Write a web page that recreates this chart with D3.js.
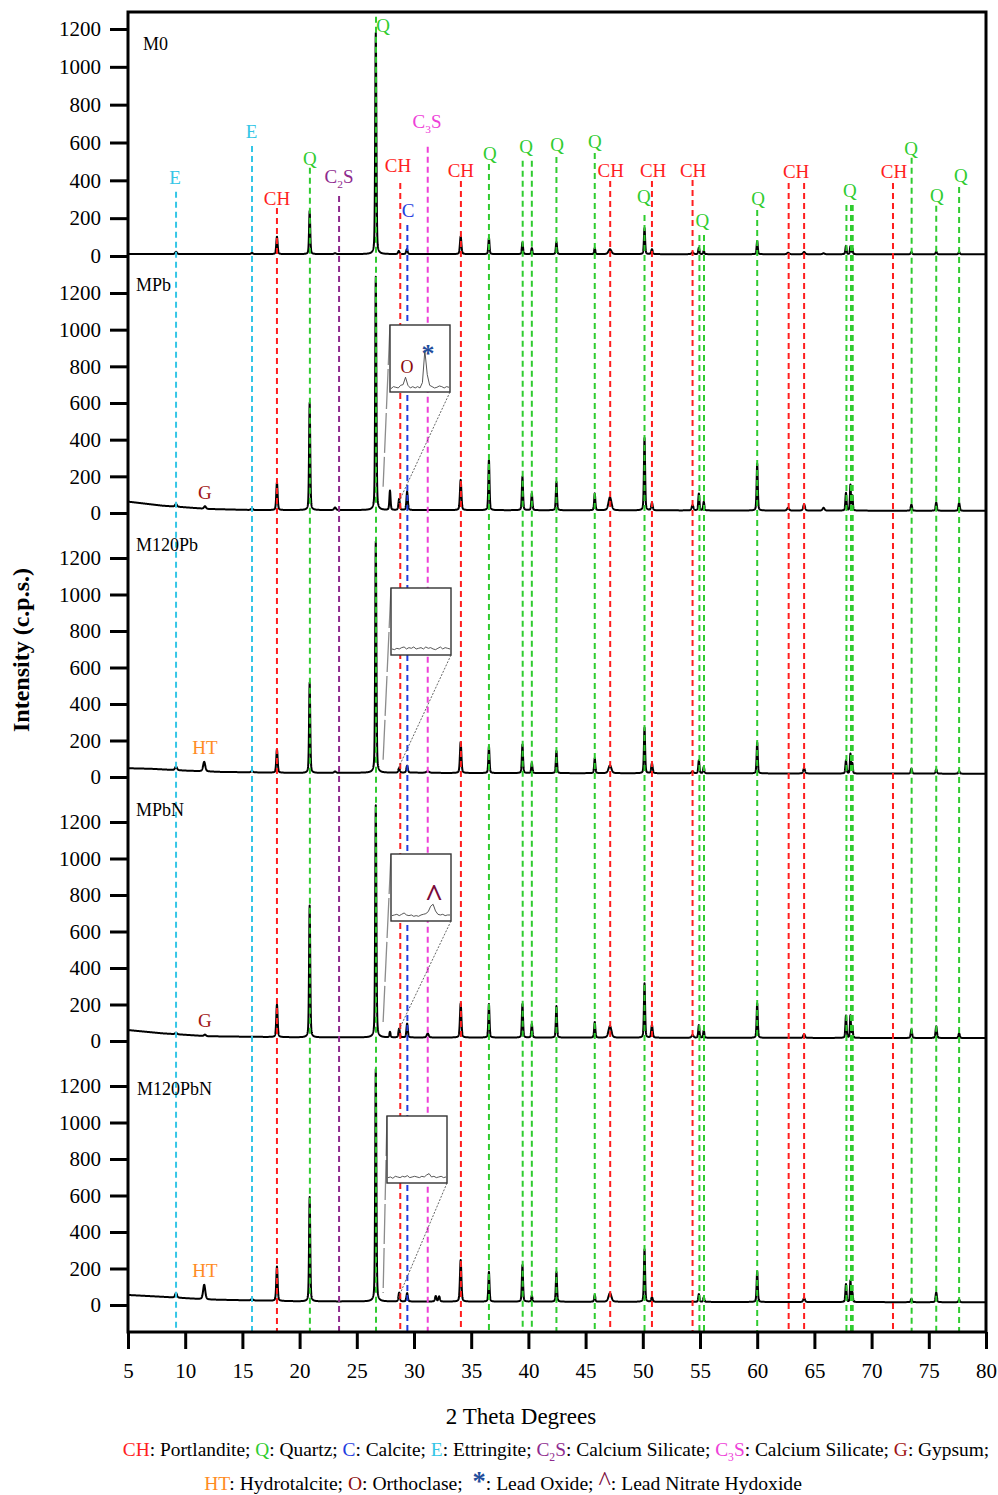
<!DOCTYPE html>
<html>
<head>
<meta charset="utf-8">
<script src="https://cdn.jsdelivr.net/npm/d3@7"></script>
<style>
  body { margin: 0; background: #fff; }
  svg text, svg tspan { font-family: "Liberation Serif", "Times New Roman", serif; }
</style>
</head>
<body>
<svg id="chart" width="998" height="1495"></svg>
<script>
// ---------------- data ----------------
const samples = ["M0", "MPb", "M120Pb", "MPbN", "M120PbN"];
const yTickValues = [0, 200, 400, 600, 800, 1000, 1200];
const xTickValues = [5, 10, 15, 20, 25, 30, 35, 40, 45, 50, 55, 60, 65, 70, 75, 80];

// background level of each pattern: [2θ, c.p.s.]
const backgroundM0      = [[5, 10], [40, 10], [80, 9]];
const backgroundMPb     = [[5, 62], [8, 40], [12, 22], [16, 16], [30, 16], [80, 12]];
const backgroundM120Pb  = [[5, 48], [7, 45], [10, 35], [13, 28], [20, 22], [30, 24], [33, 22], [80, 18]];
const backgroundMPbN    = [[5, 60], [8, 42], [12, 26], [20, 20], [80, 16]];
const backgroundM120PbN = [[5, 55], [8, 45], [12, 30], [20, 20], [80, 15]];

// reflections: [2θ, height above background (c.p.s.), FWHM (°)]
const peaksM0 = [[9.2, 12, 0.2], [15.84, 6, 0.2], [18.02, 92, 0.14], [20.88, 228, 0.12], [23.1, 5, 0.2],
  [26.66, 1170, 0.12], [28.67, 16, 0.15], [29.38, 26, 0.15], [34.08, 94, 0.15], [36.55, 86, 0.12],
  [39.48, 62, 0.12], [40.3, 32, 0.12], [42.45, 64, 0.12], [45.8, 32, 0.12], [47.13, 26, 0.3],
  [50.15, 138, 0.12], [50.8, 26, 0.15], [54.35, 10, 0.2], [54.9, 34, 0.12], [55.33, 18, 0.12],
  [60.0, 70, 0.12], [62.7, 8, 0.2], [64.1, 12, 0.2], [65.8, 5, 0.2], [67.76, 44, 0.12],
  [68.15, 42, 0.1], [68.32, 30, 0.1], [73.48, 12, 0.14], [75.65, 14, 0.14], [77.65, 12, 0.14]];
const peaksMPb = [[9.2, 15, 0.2], [11.73, 14, 0.2], [15.84, 8, 0.2], [18.02, 150, 0.14], [20.88, 585, 0.12],
  [23.1, 14, 0.2], [26.66, 1272, 0.12], [27.9, 105, 0.12], [28.7, 60, 0.14], [29.4, 100, 0.14],
  [34.08, 165, 0.15], [36.55, 275, 0.12], [39.48, 183, 0.12], [40.3, 92, 0.12], [42.45, 155, 0.12],
  [45.8, 92, 0.12], [47.13, 72, 0.3], [50.15, 395, 0.12], [50.8, 41, 0.15], [54.35, 29, 0.18],
  [54.9, 92, 0.12], [55.33, 47, 0.12], [60.0, 256, 0.12], [62.7, 15, 0.2], [64.1, 34, 0.18],
  [65.8, 15, 0.2], [67.76, 96, 0.12], [68.15, 140, 0.1], [68.32, 80, 0.1], [73.48, 34, 0.14],
  [75.65, 45, 0.14], [77.65, 43, 0.14]];
const peaksM120Pb = [[9.2, 20, 0.2], [11.66, 52, 0.22], [15.84, 7, 0.2], [18.02, 128, 0.14], [20.88, 495, 0.12],
  [23.1, 8, 0.2], [26.66, 1268, 0.12], [28.7, 25, 0.15], [29.4, 38, 0.15], [31.2, 8, 0.3],
  [34.08, 170, 0.15], [36.55, 146, 0.12], [39.48, 157, 0.12], [40.3, 56, 0.12], [42.45, 122, 0.12],
  [45.8, 82, 0.12], [47.13, 43, 0.3], [50.15, 250, 0.12], [50.8, 54, 0.15], [54.35, 10, 0.2],
  [54.9, 71, 0.12], [55.33, 35, 0.12], [60.0, 170, 0.12], [64.1, 28, 0.18], [67.76, 72, 0.12],
  [68.15, 108, 0.1], [68.32, 55, 0.1], [73.48, 28, 0.14], [75.65, 24, 0.14], [77.65, 14, 0.14]];
const peaksMPbN = [[9.2, 8, 0.2], [11.73, 8, 0.2], [18.02, 178, 0.14], [20.88, 722, 0.12], [26.66, 1272, 0.12],
  [27.9, 30, 0.12], [28.7, 48, 0.14], [29.4, 76, 0.14], [31.2, 22, 0.2], [34.08, 187, 0.15],
  [36.55, 184, 0.12], [39.48, 184, 0.12], [40.3, 75, 0.12], [42.45, 173, 0.12], [45.8, 86, 0.12],
  [47.13, 64, 0.3], [50.15, 298, 0.12], [50.8, 69, 0.15], [54.35, 15, 0.2], [54.9, 69, 0.12],
  [55.33, 40, 0.12], [60.0, 189, 0.12], [64.1, 20, 0.18], [67.76, 122, 0.12], [68.15, 122, 0.1],
  [68.32, 62, 0.1], [73.48, 47, 0.14], [75.65, 64, 0.14], [77.65, 26, 0.14]];
const peaksM120PbN = [[9.2, 25, 0.2], [11.66, 80, 0.22], [15.84, 8, 0.2], [18.02, 188, 0.14], [20.88, 572, 0.12],
  [26.66, 1274, 0.12], [28.7, 48, 0.14], [29.4, 46, 0.14], [31.9, 30, 0.15], [32.2, 28, 0.15],
  [34.08, 228, 0.15], [36.55, 163, 0.12], [39.48, 201, 0.12], [40.3, 33, 0.12], [42.45, 163, 0.12],
  [45.8, 38, 0.12], [47.13, 48, 0.3], [50.15, 288, 0.12], [50.8, 25, 0.15], [54.9, 43, 0.12],
  [55.33, 25, 0.12], [60.0, 168, 0.12], [64.1, 21, 0.18], [67.76, 98, 0.12], [68.15, 118, 0.1],
  [68.32, 52, 0.1], [73.48, 18, 0.14], [75.65, 54, 0.14], [77.65, 14, 0.14]];

// phase reference lines: position, phase, upper end (c.p.s. on the M0 axis)
const markerTheta = [9.2, 15.84, 18.02, 20.9, 23.45, 26.68, 28.8, 29.42, 31.2, 34.1, 36.55, 39.5, 40.3, 42.45,
  45.8, 47.15, 50.15, 50.8, 54.35, 54.95, 55.35, 60.0, 62.75, 64.1, 67.8, 68.2, 68.35, 71.87, 73.5, 75.65, 77.65];
const markerPhase = ["E", "E", "CH", "Q", "C2S", "Q", "CH", "C", "C3S", "CH", "Q", "Q", "Q", "Q",
  "Q", "CH", "Q", "CH", "CH", "Q", "Q", "Q", "CH", "CH", "Q", "Q", "Q", "CH", "Q", "Q", "Q"];
const markerTop = [339, 582, 254, 466, 317, 1265, 386, 164, 577, 397, 487, 503, 503, 524,
  545, 397, 217, 397, 402, 111, 111, 243, 386, 386, 270, 270, 270, 386, 519, 265, 365];

// phase labels above the M0 pattern: text, centre position (2θ), baseline level (c.p.s.)
const phaseLabelText  = ["E", "E", "CH", "Q", "C2S", "Q", "CH", "C", "C3S", "CH", "Q", "Q", "Q", "Q", "CH",
  "Q", "CH", "CH", "Q", "Q", "CH", "Q", "CH", "Q", "Q", "Q"];
const phaseLabelTheta = [9.12, 15.8, 18.02, 20.9, 23.45, 27.3, 28.6, 29.48, 31.14, 34.1, 36.64, 39.8, 42.5, 45.8, 47.2,
  50.1, 50.9, 54.4, 55.2, 60.07, 63.4, 68.1, 71.96, 73.45, 75.7, 77.8];
const phaseLabelLevel = [381, 624, 270, 481, 386, 1185, 444, 206, 677, 418, 508, 545, 556, 571, 418,
  280, 418, 418, 153, 270, 413, 312, 413, 534, 286, 392];

// extra phase notes inside the lower patterns
const noteText  = ["", "G", "HT", "G", "HT"];
const noteTheta = 11.73;
const noteLevel = [0, 76, 126, 76, 153];

// enlarged 27.4–28.6° region shown in the insets (MPb, M120Pb, MPbN, M120PbN), c.p.s.
const insetRange = [27.4, 28.6];
const insetMPb      = [5, 8, 7, 6, 10, 11, 22, 10, 6, 8, 6, 8, 6, 14, 62, 26, 10, 8, 6, 7, 9, 8, 6, 8, 7];
const insetM120Pb   = [9, 8, 10, 9, 11, 12, 9, 11, 10, 12, 9, 10, 11, 9, 12, 10, 11, 9, 8, 10, 12, 9, 11, 10, 9];
const insetMPbN     = [8, 9, 10, 8, 10, 12, 9, 8, 9, 7, 8, 7, 9, 10, 11, 14, 22, 25, 15, 10, 9, 10, 8, 9, 9];
const insetM120PbN  = [8, 9, 7, 10, 9, 8, 10, 9, 11, 8, 9, 10, 9, 8, 10, 9, 12, 14, 9, 10, 8, 9, 10, 8, 9];
// zoomed window on the main traces (c.p.s.): upper-left and lower-right anchors
const windowTheta  = [27.3, 28.55];
const windowTop    = [143, 93, 104, 66];
const windowBottom = [44, 38, 44, 27];

// ---------------- styling ----------------
const serif = "Liberation Serif, Times New Roman, serif";
const phaseColor = { E: "#35c6e6", CH: "#ff1f1f", Q: "#2fcc2f", C: "#1f3de0", C2S: "#8e2a8e",
  C3S: "#ee40d8", G: "#a01414", HT: "#ff8c1f", O: "#8b0a0a" };

const svg = d3.select("#chart");
const plot = { left: 128, right: 986, top: 12, bottom: 1332 };
const panelZero = [256, 513, 777, 1041, 1305];
const panelTop1200 = [29, 293, 558, 822, 1086];
const sampleLabelX = [143, 136, 136, 136, 137];
const sampleLabelY = [50, 291, 551, 816, 1095];
const insetBoxes = [{ x: 390, y: 325 }, { x: 391, y: 588 }, { x: 391, y: 854 }, { x: 387, y: 1116 }];
const insetW = 60, insetH = 67;

const x = d3.scaleLinear().domain([5, 80]).range([plot.left, plot.right]);
const ys = samples.map((s, i) => d3.scaleLinear().domain([0, 1200]).range([panelZero[i], panelTop1200[i]]));

const backgrounds = [backgroundM0, backgroundMPb, backgroundM120Pb, backgroundMPbN, backgroundM120PbN];
const peakTables = [peaksM0, peaksMPb, peaksM120Pb, peaksMPbN, peaksM120PbN];

// pseudo-Voigt reflection profile
function profile(t, c, h, w) {
  const u = (t - c) / w;
  const g = Math.exp(-4 * Math.LN2 * u * u);
  const l = 1 / (1 + 4 * u * u);
  return h * (0.35 * l + 0.65 * g);
}

const grid = d3.range(5, 80.0001, 0.01);
const line = d3.line();

// ---------------- diffraction patterns ----------------
const gTraces = svg.append("g");
samples.forEach((s, i) => {
  const bg = d3.scaleLinear().domain(backgrounds[i].map(d => d[0])).range(backgrounds[i].map(d => d[1]));
  const pts = grid.map(t => {
    let v = bg(t);
    for (const p of peakTables[i]) {
      if (Math.abs(t - p[0]) < 3) v += profile(t, p[0], p[1], p[2]);
    }
    return [x(t), ys[i](v)];
  });
  gTraces.append("path").attr("d", line(pts))
    .attr("fill", "none").attr("stroke", "#000").attr("stroke-width", 2)
    .attr("stroke-linejoin", "round");
});

// ---------------- phase reference lines ----------------
const gMarks = svg.append("g");
markerTheta.forEach((t, k) => {
  gMarks.append("line")
    .attr("x1", x(t)).attr("x2", x(t))
    .attr("y1", ys[0](markerTop[k])).attr("y2", plot.bottom - 1)
    .attr("stroke", phaseColor[markerPhase[k]]).attr("stroke-width", 2)
    .attr("stroke-dasharray", "6,4");
});

// text with chemical subscripts (C2S, C3S)
function phaseText(sel, code, size) {
  const m = code.match(/^C([23])S$/);
  if (m) {
    sel.append("tspan").text("C");
    sel.append("tspan").text(m[1]).attr("font-size", size * 0.6).attr("dy", size * 0.28);
    sel.append("tspan").text("S").attr("dy", -size * 0.28);
  } else {
    sel.text(code);
  }
}

const gLabels = svg.append("g");
phaseLabelText.forEach((c, k) => {
  const t = gLabels.append("text")
    .attr("x", x(phaseLabelTheta[k])).attr("y", ys[0](phaseLabelLevel[k]))
    .attr("text-anchor", "middle").attr("font-size", 19).attr("font-family", serif)
    .attr("fill", phaseColor[c]);
  phaseText(t, c, 19);
});

// sample names and notes
samples.forEach((s, i) => {
  svg.append("text").attr("x", sampleLabelX[i]).attr("y", sampleLabelY[i])
    .attr("font-size", 18).attr("font-family", serif).attr("fill", "#000").text(s);
  if (noteText[i]) {
    svg.append("text").attr("x", x(noteTheta)).attr("y", ys[i](noteLevel[i]))
      .attr("text-anchor", "middle").attr("font-size", 19).attr("font-family", serif)
      .attr("fill", phaseColor[noteText[i]]).text(noteText[i]);
  }
});

// ---------------- insets ----------------
const insetData = [insetMPb, insetM120Pb, insetMPbN, insetM120PbN];
insetData.forEach((vals, j) => {
  const i = j + 1;
  const b = insetBoxes[j];
  // connector lines from the box to the enlarged window
  svg.append("line")
    .attr("x1", b.x).attr("y1", b.y)
    .attr("x2", x(windowTheta[0])).attr("y2", ys[i](windowTop[j]))
    .attr("stroke", "#8c8c8c").attr("stroke-width", 1.3).attr("stroke-dasharray", "40,4");
  svg.append("line")
    .attr("x1", b.x + insetW).attr("y1", b.y + insetH)
    .attr("x2", x(windowTheta[1])).attr("y2", ys[i](windowBottom[j]))
    .attr("stroke", "#555").attr("stroke-width", 0.9).attr("stroke-dasharray", "2,1.5");

  const g = svg.append("g");
  g.append("rect").attr("x", b.x).attr("y", b.y).attr("width", insetW).attr("height", insetH)
    .attr("fill", "#fff").attr("stroke", "#333").attr("stroke-width", 1.4);
  const ix = d3.scaleLinear().domain(insetRange).range([b.x + 1, b.x + insetW - 1]);
  const iy = d3.scaleLinear().domain([0, 100]).range([b.y + insetH, b.y]);
  const step = (insetRange[1] - insetRange[0]) / (vals.length - 1);
  const ipts = vals.map((v, k) => [ix(insetRange[0] + k * step), iy(v)]);
  g.append("path").attr("d", line(ipts)).attr("fill", "none")
    .attr("stroke", "#444").attr("stroke-width", 0.9);
});
// inset annotations
svg.append("text").attr("x", 407).attr("y", 373).attr("text-anchor", "middle").attr("font-family", serif)
  .attr("font-size", 18).attr("fill", phaseColor.O).text("O");
svg.append("text").attr("x", 428).attr("y", 362).attr("text-anchor", "middle").attr("font-family", serif)
  .attr("font-size", 26).attr("font-weight", "bold").attr("fill", "#1f4e9c").text("*");
svg.append("text").attr("x", 434).attr("y", 906).attr("text-anchor", "middle").attr("font-family", serif)
  .attr("font-size", 32).attr("font-weight", "bold").attr("fill", "#7a0a3a").text("^");

// ---------------- axes and frame ----------------
samples.forEach((s, i) => {
  const ax = svg.append("g").attr("transform", `translate(${plot.left},0)`)
    .call(d3.axisLeft(ys[i]).tickValues(yTickValues).tickSize(18).tickPadding(9).tickFormat(d3.format("d")));
  ax.select(".domain").remove();
  ax.selectAll(".tick line").attr("stroke", "#000").attr("stroke-width", 3);
  ax.selectAll(".tick text").attr("font-size", 21).attr("font-family", serif).attr("fill", "#000");
});

const axb = svg.append("g").attr("transform", `translate(0,${plot.bottom})`)
  .call(d3.axisBottom(x).tickValues(xTickValues).tickSize(17).tickPadding(14));
axb.select(".domain").remove();
axb.selectAll(".tick line").attr("stroke", "#000").attr("stroke-width", 3);
axb.selectAll(".tick text").attr("font-size", 21).attr("font-family", serif).attr("fill", "#000");

svg.append("rect").attr("x", plot.left).attr("y", plot.top)
  .attr("width", plot.right - plot.left).attr("height", plot.bottom - plot.top)
  .attr("fill", "none").attr("stroke", "#000").attr("stroke-width", 3);

// axis titles
svg.append("text").attr("x", 521).attr("y", 1424).attr("text-anchor", "middle").attr("font-family", serif)
  .attr("font-size", 23).text("2 Theta Degrees");
svg.append("text").attr("transform", "translate(29,650) rotate(-90)").attr("text-anchor", "middle")
  .attr("font-family", serif).attr("font-size", 24).attr("font-weight", "bold").text("Intensity (c.p.s.)");

// ---------------- legend ----------------
const legendRow1 = [["CH", "CH"], [null, ": Portlandite; "], ["Q", "Q"], [null, ": Quartz; "], ["C", "C"],
  [null, ": Calcite; "], ["E", "E"], [null, ": Ettringite; "], ["C2S", "C2S"], [null, ": Calcium Silicate; "],
  ["C3S", "C3S"], [null, ": Calcium Silicate; "], ["G", "G"], [null, ": Gypsum;"]];
const legendRow2 = [["HT", "HT"], [null, ": Hydrotalcite; "], ["O", "O"], [null, ": Orthoclase;  "],
  ["star", "*"], [null, ": Lead Oxide; "], ["caret", "^"], [null, ": Lead Nitrate Hydoxide"]];

function legendRow(items, cx, y, size) {
  const t = svg.append("text").attr("x", cx).attr("y", y).attr("text-anchor", "middle")
    .attr("font-family", serif).attr("font-size", size)
    .attr("xml:space", "preserve").style("white-space", "pre");
  items.forEach(([code, str]) => {
    let s;
    if (code === null) {
      s = t.append("tspan").attr("fill", "#000").text(str);
    } else if (code === "star") {
      s = t.append("tspan").attr("fill", "#1f4e9c").attr("font-weight", "bold").attr("font-size", size * 1.35).text(str);
    } else if (code === "caret") {
      s = t.append("tspan").attr("fill", "#7a0a3a").attr("font-size", size * 1.35).text(str);
    } else {
      const m = code.match(/^C([23])S$/);
      if (m) {
        t.append("tspan").attr("fill", phaseColor[code]).attr("font-family", serif).text("C");
        t.append("tspan").attr("fill", phaseColor[code]).attr("font-family", serif)
          .attr("font-size", size * 0.6).attr("dy", size * 0.28).text(m[1]);
        s = t.append("tspan").attr("fill", phaseColor[code]).attr("dy", -size * 0.28).text("S");
      } else {
        s = t.append("tspan").attr("fill", phaseColor[code]).text(str);
      }
    }
    s.attr("font-family", serif);
  });
}
legendRow(legendRow1, 556, 1456, 19.4);
legendRow(legendRow2, 503, 1490, 19.6);
</script>
</body>
</html>
